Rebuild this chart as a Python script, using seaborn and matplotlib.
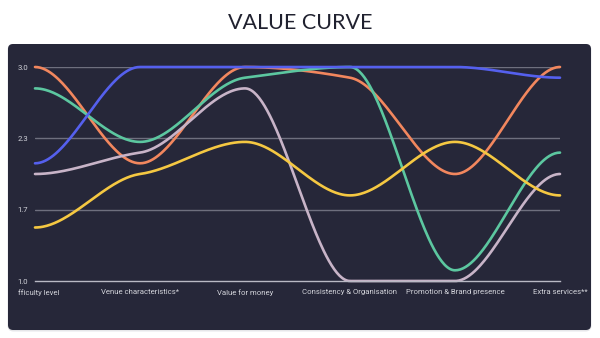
import numpy as np
import pandas as pd
import seaborn as sns
import matplotlib
matplotlib.use("Agg")
import matplotlib.pyplot as plt
from matplotlib.patches import FancyBboxPatch
from matplotlib.transforms import Bbox

# ---------------- data ----------------
categories = ["Difficulty level", "Venue characteristics*", "Value for money",
              "Consistency & Organisation", "Promotion & Brand presence", "Extra services**"]
series_names = ["Orange", "Green", "Lilac", "Yellow", "Blue"]
orange_values = [3.0, 2.1, 3.0, 2.9, 2.0, 3.0]
green_values = [2.8, 2.3, 2.9, 3.0, 1.1, 2.2]
lilac_values = [2.0, 2.2, 2.8, 1.0, 1.0, 2.0]
yellow_values = [1.5, 2.0, 2.3, 1.8, 2.3, 1.8]
blue_values = [2.1, 3.0, 3.0, 3.0, 3.0, 2.9]
y_tick_labels = ["1.0", "1.7", "2.3", "3.0"]
title = "VALUE CURVE"

colors = {"Blue": "#5560ee", "Orange": "#f2875e", "Green": "#5cc7a0",
          "Lilac": "#c8b4c8", "Yellow": "#f5c842"}
BG = "#262739"


def smooth_curve(xs, ys, k=0.35, n=80):
    """Hermite spline with damped tangents (flat at ends and extrema)."""
    xs = np.asarray(xs, float)
    ys = np.asarray(ys, float)
    m = np.zeros_like(ys)
    for i in range(1, len(ys) - 1):
        a = ys[i] - ys[i - 1]
        b = ys[i + 1] - ys[i]
        if a * b > 0:
            m[i] = k * (ys[i + 1] - ys[i - 1]) / (xs[i + 1] - xs[i - 1])
    ox, oy = [], []
    for i in range(len(xs) - 1):
        h = xs[i + 1] - xs[i]
        t = np.linspace(0, 1, n, endpoint=(i == len(xs) - 2))
        h00 = 2 * t**3 - 3 * t**2 + 1
        h10 = t**3 - 2 * t**2 + t
        h01 = -2 * t**3 + 3 * t**2
        h11 = t**3 - t**2
        ox.append(xs[i] + t * h)
        oy.append(h00 * ys[i] + h10 * h * m[i] + h01 * ys[i + 1] + h11 * h * m[i + 1])
    return np.concatenate(ox), np.concatenate(oy)


xpos = np.arange(len(categories))
frames = []
for name, vals in zip(series_names, [orange_values, green_values, lilac_values,
                                     yellow_values, blue_values]):
    sx, sy = smooth_curve(xpos, vals)
    frames.append(pd.DataFrame({"x": sx, "y": sy, "series": name}))
df = pd.concat(frames, ignore_index=True)

# ---------------- figure ----------------
sns.set_style("white")
plt.rcParams["font.family"] = ["Roboto", "DejaVu Sans"]

W, H = 600, 338
fig = plt.figure(figsize=(W / 100, H / 100), dpi=100, facecolor="white")

# card shadow + card
shadow = FancyBboxPatch((7.5, 6.5), 584, 287.5, boxstyle="round,pad=0,rounding_size=6",
                        transform=None, facecolor="#c8c8d0", edgecolor="none",
                        alpha=0.45, zorder=0)
card = FancyBboxPatch((8, 8), 583, 286, boxstyle="round,pad=0,rounding_size=5",
                      transform=None, facecolor=BG, edgecolor="none", zorder=1)
fig.add_artist(shadow)
fig.add_artist(card)

fig.text(0.5, 1 - 23 / H, title, ha="center", va="center", fontsize=15.5,
         family=["Lato", "DejaVu Sans"], color="#20212f")

ax = fig.add_axes([35 / W, 1 - 281 / H, 525 / W, 214 / H])
ax.set_facecolor("none")
ax.set_zorder(2)

sns.lineplot(data=df, x="x", y="y", hue="series", hue_order=series_names,
             palette=colors, sort=False, estimator=None, legend=False,
             linewidth=1.9, ax=ax)
for ln in ax.lines:
    ln.set_clip_on(False)
    ln.set_solid_capstyle("round")

ax.set_xlim(0, len(categories) - 1)
ax.set_ylim(1.0, 3.0)
yt = np.linspace(1.0, 3.0, len(y_tick_labels))
ax.set_yticks(yt, y_tick_labels)
ax.set_xticks(xpos, categories)
ax.set_xlabel("")
ax.set_ylabel("")

for y in yt[1:]:
    ax.axhline(y, color="#6e6f7e", linewidth=1.0, zorder=0.5)

for s in ["top", "right", "left"]:
    ax.spines[s].set_visible(False)
ax.spines["bottom"].set_color("#b9b9c4")
ax.spines["bottom"].set_linewidth(1.0)

ax.tick_params(axis="y", length=0, pad=5, labelsize=5.6, labelcolor="#d2d3da")
ax.tick_params(axis="x", length=2.5, width=0.8, color="#b9b9c4", pad=3.5,
               labelsize=5.6, labelcolor="#d2d3da", direction="out")

# the first label is clipped at the chart area's left margin, as in the reference
lbl = ax.get_xticklabels()[0]
lbl.set_clip_box(Bbox([[18, 0], [W, H]]))
lbl.set_clip_on(True)

fig.savefig("out.png", dpi=100, facecolor="white")
